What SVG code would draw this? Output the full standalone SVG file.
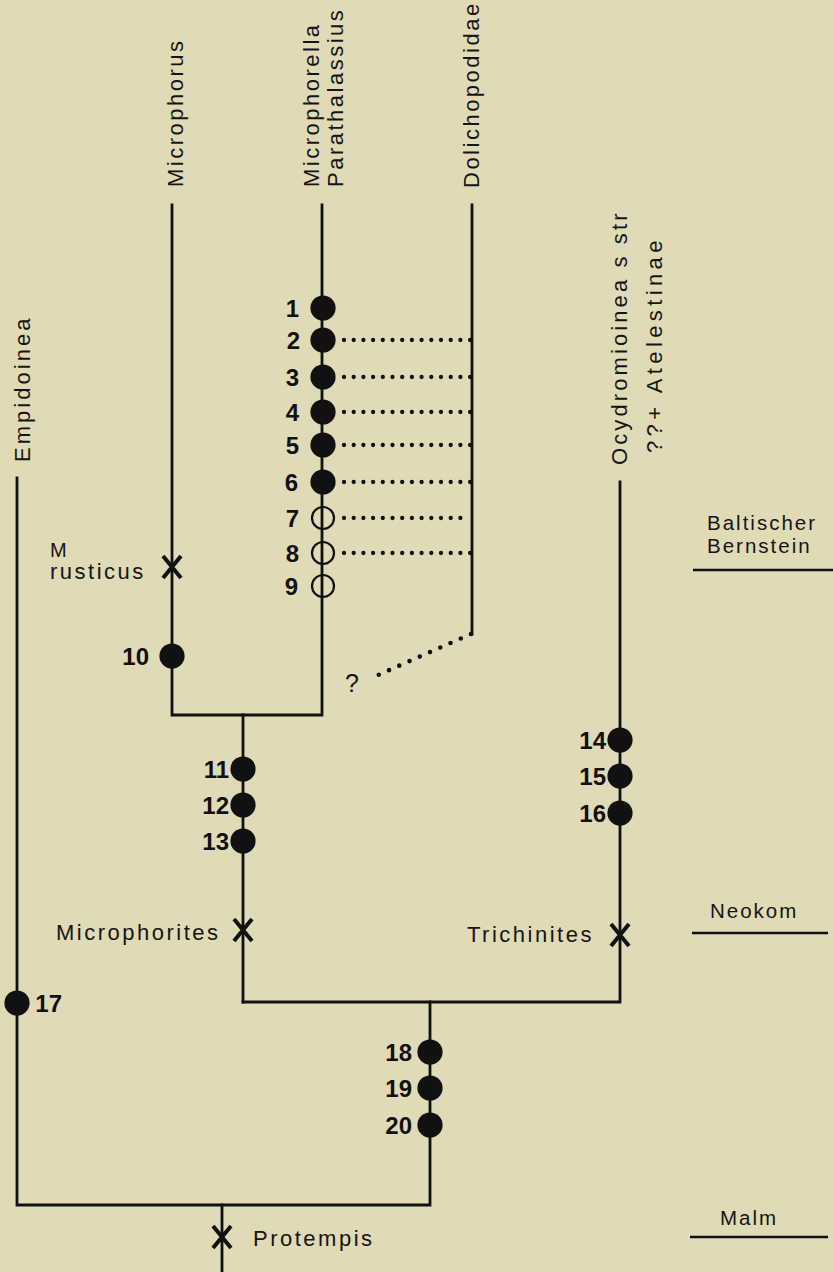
<svg xmlns="http://www.w3.org/2000/svg" width="833" height="1272" viewBox="0 0 833 1272">
<style>
.bg{fill:#e1dab6}
.ln{stroke:#111;stroke-width:2.8;fill:none;stroke-linecap:square}
.dot{stroke:#111;stroke-width:4.3;fill:none;stroke-linecap:round;stroke-dasharray:0 9.7}
.dot2{stroke:#111;stroke-width:4.6;fill:none;stroke-linecap:round;stroke-dasharray:0 11.2}
.lbl{font-family:"Liberation Sans",Arial,sans-serif;font-size:22px;letter-spacing:2.5px;fill:#151515}
.per{font-family:"Liberation Sans",Arial,sans-serif;font-size:20.5px;letter-spacing:2px;fill:#151515}
.num{font-family:"Liberation Sans",Arial,sans-serif;font-size:24px;font-weight:bold;fill:#111;text-anchor:end}
.f{fill:#111}
.o{fill:none;stroke:#111;stroke-width:2.2}
.x{stroke:#111;stroke-width:4;fill:none}
.pl{stroke:#111;stroke-width:2.4}
</style>
<defs>
<g id="xm"><path class="x" d="M-9,-11 L9,11 M9,-11 L-9,11"/></g>
</defs>
<rect class="bg" x="0" y="0" width="833" height="1272"/>

<g id="connectors">
<path class="ln" d="M17,478 V1205 H430 V1002"/>
<path class="ln" d="M222,1205 V1272"/>
<path class="ln" d="M243,1002 H620 V482"/>
<path class="ln" d="M243,1002 V715"/>
<path class="ln" d="M172,205 V715 H322 V205"/>
<path class="ln" d="M472,205 V634"/>
<path class="dot" d="M344,340 H470.5"/>
<path class="dot" d="M344,377 H470.5"/>
<path class="dot" d="M344,412 H470.5"/>
<path class="dot" d="M344,445 H470.5"/>
<path class="dot" d="M344,482 H470.5"/>
<path class="dot" d="M344,518 H461"/>
<path class="dot" d="M344,553 H470.5"/>
<path class="dot2" d="M471,634 L369,679"/>
</g>

<g id="taxon-microphorus"><text class="lbl" transform="translate(183,187) rotate(-90)">Microphorus</text></g>
<g id="taxon-microphorella"><text class="lbl" transform="translate(319,187) rotate(-90)">Microphorella</text><text class="lbl" transform="translate(343,187) rotate(-90)">Parathalassius</text></g>
<g id="taxon-dolichopodidae"><text class="lbl" transform="translate(479,188) rotate(-90)">Dolichopodidae</text></g>
<g id="taxon-empidoinea"><text class="lbl" transform="translate(30,462) rotate(-90)" textLength="146" lengthAdjust="spacing">Empidoinea</text></g>
<g id="taxon-ocydromioinea"><text class="lbl" transform="translate(627,465) rotate(-90)" textLength="254" lengthAdjust="spacing">Ocydromioinea s str</text><text class="lbl" transform="translate(662,453) rotate(-90)" textLength="215" lengthAdjust="spacing">??+ Atelestinae</text></g>

<g id="c1"><circle class="f" cx="323" cy="308" r="12.6"/><text class="num" x="299" y="317">1</text></g>
<g id="c2"><circle class="f" cx="323" cy="340" r="12.6"/><text class="num" x="300" y="349">2</text></g>
<g id="c3"><circle class="f" cx="323" cy="377" r="12.6"/><text class="num" x="299" y="386">3</text></g>
<g id="c4"><circle class="f" cx="323" cy="412" r="12.6"/><text class="num" x="299" y="421">4</text></g>
<g id="c5"><circle class="f" cx="323" cy="445" r="12.6"/><text class="num" x="299" y="454">5</text></g>
<g id="c6"><circle class="f" cx="323" cy="482" r="12.6"/><text class="num" x="298" y="491">6</text></g>
<g id="c7"><circle class="o" cx="323" cy="518" r="11"/><text class="num" x="299" y="527">7</text></g>
<g id="c8"><circle class="o" cx="323" cy="553" r="11"/><text class="num" x="299" y="562">8</text></g>
<g id="c9"><circle class="o" cx="323" cy="586" r="11"/><text class="num" x="298" y="595">9</text></g>
<g id="c10"><circle class="f" cx="172" cy="656" r="12.6"/><text class="num" x="149" y="665">10</text></g>
<g id="c11"><circle class="f" cx="243" cy="769" r="12.6"/><text class="num" x="229" y="778">11</text></g>
<g id="c12"><circle class="f" cx="243" cy="805" r="12.6"/><text class="num" x="229" y="814">12</text></g>
<g id="c13"><circle class="f" cx="243" cy="841" r="12.6"/><text class="num" x="229" y="850">13</text></g>
<g id="c14"><circle class="f" cx="620" cy="740" r="12.6"/><text class="num" x="606" y="749">14</text></g>
<g id="c15"><circle class="f" cx="620" cy="776" r="12.6"/><text class="num" x="606" y="785">15</text></g>
<g id="c16"><circle class="f" cx="620" cy="813" r="12.6"/><text class="num" x="606" y="822">16</text></g>
<g id="c17"><circle class="f" cx="17" cy="1003" r="12.6"/><text class="num" x="62" y="1012">17</text></g>
<g id="c18"><circle class="f" cx="430" cy="1052" r="12.6"/><text class="num" x="412" y="1061">18</text></g>
<g id="c19"><circle class="f" cx="430" cy="1088" r="12.6"/><text class="num" x="412" y="1097">19</text></g>
<g id="c20"><circle class="f" cx="430" cy="1125" r="12.6"/><text class="num" x="412" y="1134">20</text></g>

<g id="fossil-rusticus"><use href="#xm" x="172" y="567"/><text class="lbl" x="50" y="557" style="font-size:20px">M</text><text class="lbl" x="50" y="579">rusticus</text></g>
<g id="fossil-microphorites"><use href="#xm" x="243" y="930"/><text class="lbl" x="56" y="940">Microphorites</text></g>
<g id="fossil-trichinites"><use href="#xm" x="620" y="935"/><text class="lbl" x="467" y="942">Trichinites</text></g>
<g id="fossil-protempis"><use href="#xm" x="222" y="1237"/><text class="lbl" x="253" y="1246">Protempis</text></g>
<g id="question"><text class="lbl" x="345" y="692" style="font-size:25px">?</text></g>

<g id="period-baltic"><text class="per" x="707" y="530">Baltischer</text><text class="per" x="707" y="553">Bernstein</text><line class="pl" x1="693" y1="570" x2="833" y2="570"/></g>
<g id="period-neokom"><text class="per" x="710" y="918">Neokom</text><line class="pl" x1="692" y1="933" x2="828" y2="933"/></g>
<g id="period-malm"><text class="per" x="720" y="1225">Malm</text><line class="pl" x1="690" y1="1237" x2="828" y2="1237"/></g>
</svg>
